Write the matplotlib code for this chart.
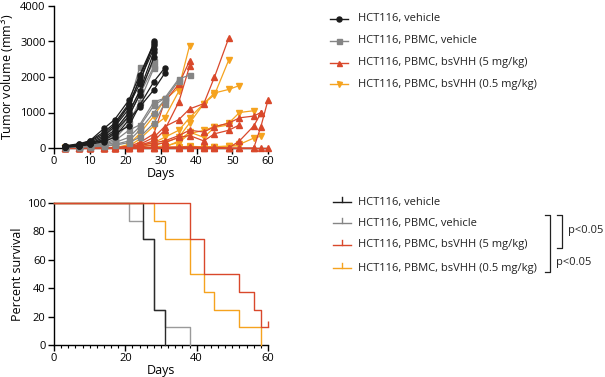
import matplotlib
matplotlib.use("Agg")
import matplotlib.pyplot as plt
from matplotlib.lines import Line2D
import numpy as np

plt.rcParams['font.family'] = ['Open Sans', 'DejaVu Sans']

# ---------------- data ----------------
days = [3, 7, 10, 14, 17, 21, 24, 28, 31, 35, 38, 42, 45, 49, 52, 56, 58, 60]

vehicle = [
    [50, 100, 180, 400, 650, 1200, 1800, 3000],
    [40, 90, 200, 550, 800, 1350, 2050, 2950],
    [30, 80, 150, 350, 600, 1100, 2000, 2900],
    [60, 120, 200, 450, 700, 1250, 1900, 2800],
    [40, 70, 120, 300, 500, 1000, 1600, 2700],
    [30, 60, 100, 250, 450, 900, 1500, 2550],
    [50, 80, 150, 200, 400, 620, 1200, 1870, 2250],
    [20, 50, 100, 180, 300, 800, 1150, 1640, 2100],
]
pbmc_vehicle = [
    [40, 60, 100, 300, 600, 1200, 2270],
    [30, 50, 90, 200, 450, 1000, 1600, 2450],
    [30, 50, 80, 150, 350, 900, 1500, 2300],
    [20, 40, 70, 120, 250, 700, 1300, 2250],
    [20, 40, 60, 100, 200, 500, 650, 1300, 1400],
    [20, 30, 50, 80, 150, 300, 600, 1200, 1400, 1950, 2050],
    [20, 30, 40, 60, 100, 200, 500, 1000, 1350, 1900],
    [10, 20, 30, 50, 80, 150, 300, 700, 1250],
]
bsvhh_5 = [
    [0, 0, 0, 0, 0, 50, 100, 300, 600, 800, 1100, 1250, 2000, 3100],
    [0, 0, 0, 0, 0, 50, 150, 400, 1300, 1800, 2450],
    [0, 0, 0, 0, 0, 30, 80, 200, 500, 1300, 2300],
    [0, 0, 0, 0, 0, 20, 60, 150, 200, 350, 500, 450, 600, 700, 850, 900, 1000],
    [0, 0, 0, 0, 0, 10, 30, 80, 150, 300, 350, 200, 400, 500, 650],
    [0, 0, 0, 0, 0, 0, 0, 10, 20, 30, 30, 20, 20, 0, 200, 620, 980],
    [0, 0, 0, 0, 0, 0, 0, 0, 0, 10, 20, 10, 0, 0, 0, 0, 600, 1350],
    [0, 0, 0, 0, 0, 0, 0, 0, 0, 0, 0, 0, 0, 0, 0, 0, 0, 0],
]
bsvhh_05 = [
    [0, 0, 0, 0, 0, 100, 400, 900, 1350, 1700, 2880],
    [0, 0, 0, 0, 0, 50, 250, 620, 850, 1600],
    [0, 0, 0, 0, 0, 20, 80, 150, 300, 500, 850, 1250, 1500, 2480],
    [0, 0, 0, 0, 0, 10, 40, 100, 150, 300, 700, 1250, 1550, 1650, 1760],
    [0, 0, 0, 0, 0, 0, 10, 30, 60, 150, 400, 500, 600, 700, 1000, 1050],
    [0, 0, 0, 0, 0, 0, 0, 10, 20, 30, 50, 30, 30, 50, 100, 280, 330],
    [0, 0, 0, 0, 0, 0, 0, 0, 10, 200, 450, 300, 580, 650],
    [0, 0, 0, 0, 0, 0, 0, 0, 0, 0, 20, 30, 40, 50, 60],
]

group_labels = ["HCT116, vehicle", "HCT116, PBMC, vehicle",
                "HCT116, PBMC, bsVHH (5 mg/kg)", "HCT116, PBMC, bsVHH (0.5 mg/kg)"]

# survival (Kaplan-Meier steps)
surv_vehicle_t = [0, 25, 28, 31]
surv_vehicle_p = [100, 75, 25, 0]
surv_pbmc_t = [0, 21, 25, 28, 31, 38]
surv_pbmc_p = [100, 87.5, 75, 25, 12.5, 0]
surv_5_t = [0, 38, 42, 52, 56, 58, 60]
surv_5_p = [100, 75, 50, 37.5, 25, 12.5, 12.5]
surv_05_t = [0, 28, 31, 38, 42, 45, 52, 58]
surv_05_p = [100, 87.5, 75, 50, 37.5, 25, 12.5, 0]

pvalue_text = "p<0.05"

# ---------------- style ----------------
c_black = "#1c1c1c"
c_grey = "#858585"
c_red = "#d9482b"
c_orange = "#f5a31f"
surv_black = "#2a2a2a"
surv_grey = "#9a9a9a"

W, H = 605, 377
fig = plt.figure(figsize=(W / 100, H / 100), dpi=100)

def fx(px):
    return px / W

def fy(py):
    return 1 - py / H

fs_tick = 8
fs_lab = 9
fs_leg = 8

# ---------------- top: tumor volume ----------------
ax1 = fig.add_axes([fx(54), fy(148), fx(268 - 54), (148 - 6) / H])
groups = [
    (bsvhh_05, c_orange, 'v', 3.8, 2),
    (bsvhh_5, c_red, '^', 3.8, 3),
    (pbmc_vehicle, c_grey, 's', 3.6, 4),
    (vehicle, c_black, 'o', 3.6, 5),
]
for data, col, mk, ms, z in groups:
    for vals in data:
        ax1.plot(days[:len(vals)], vals, color=col, marker=mk, markersize=ms,
                 linewidth=0.9, clip_on=False, zorder=z)
ax1.set_xlim(0, 60)
ax1.set_ylim(0, 4000)
ax1.set_xticks(range(0, 61, 10))
ax1.set_yticks(range(0, 4001, 1000))
for s in ['top', 'right']:
    ax1.spines[s].set_visible(False)
for s in ['left', 'bottom']:
    ax1.spines[s].set_linewidth(1.0)
ax1.tick_params(direction='out', length=4, width=1.0, labelsize=fs_tick, pad=2)
ax1.set_xlabel("Days", fontsize=fs_lab, labelpad=0)
ax1.set_ylabel("Tumor volume (mm$^3$)", fontsize=fs_lab, labelpad=2)

# ---------------- bottom: survival ----------------
ax2 = fig.add_axes([fx(54), fy(345), fx(268 - 54), (345 - 203) / H])
surv = [
    (surv_pbmc_t, surv_pbmc_p, surv_grey),
    (surv_vehicle_t, surv_vehicle_p, surv_black),
    (surv_05_t, surv_05_p, c_orange),
    (surv_5_t, surv_5_p, c_red),
]
for t, p, col in surv:
    ax2.step(t, p, where='post', color=col, linewidth=1.0, clip_on=False, zorder=3)
# censor mark at end of 5 mg/kg curve
ax2.plot([surv_5_t[-1]], [surv_5_p[-1]], marker=2, markersize=4, color=c_red,
         markeredgewidth=1.0, clip_on=False, zorder=3)
ax2.set_xlim(0, 60)
ax2.set_ylim(0, 100)
ax2.set_xticks(range(0, 61, 20))
ax2.set_xticks(range(0, 61, 2), minor=True)
ax2.set_yticks(range(0, 101, 20))
for s in ['top', 'right']:
    ax2.spines[s].set_visible(False)
for s in ['left', 'bottom']:
    ax2.spines[s].set_linewidth(1.0)
ax2.tick_params(direction='out', length=4, width=1.0, labelsize=fs_tick, pad=2)
ax2.tick_params(which='minor', direction='out', length=2.5, width=0.8)
ax2.set_xlabel("Days", fontsize=fs_lab, labelpad=0)
ax2.set_ylabel("Percent survival", fontsize=fs_lab, labelpad=2)

# ---------------- legends ----------------
top_rows = [19, 41, 63, 84]
top_styles = [(c_black, 'o'), (c_grey, 's'), (c_red, '^'), (c_orange, 'v')]
for (col, mk), y, lab in zip(top_styles, top_rows, group_labels):
    fig.add_artist(Line2D([fx(330), fx(348)], [fy(y), fy(y)], color=col, lw=1.0,
                          transform=fig.transFigure))
    fig.add_artist(Line2D([fx(339)], [fy(y)], color=col, marker=mk, markersize=3.6,
                          transform=fig.transFigure))
    fig.text(fx(358), fy(y), lab, fontsize=fs_leg, va='center', ha='left', color='#222222')

bot_rows = [202, 223, 245, 268]
bot_cols = [c_black, c_grey, c_red, c_orange]
for col, y, lab in zip(bot_cols, bot_rows, group_labels):
    fig.add_artist(Line2D([fx(333), fx(351)], [fy(y), fy(y)], color=col, lw=1.0,
                          transform=fig.transFigure))
    fig.add_artist(Line2D([fx(342), fx(342)], [fy(y), fy(y - 5)], color=col, lw=1.0,
                          transform=fig.transFigure))
    fig.text(fx(358), fy(y), lab, fontsize=fs_leg, va='center', ha='left', color='#222222')

# brackets
def bracket(x, y0, y1, w):
    fig.add_artist(Line2D([fx(x - w), fx(x), fx(x), fx(x - w)],
                          [fy(y0), fy(y0), fy(y1), fy(y1)], color='#222222', lw=0.9,
                          transform=fig.transFigure))

bracket(562, 215, 248, 5)
bracket(550, 215, 272, 5)
fig.text(fx(568), fy(230), pvalue_text, fontsize=fs_leg, va='center', ha='left', color='#222222')
fig.text(fx(556), fy(262), pvalue_text, fontsize=fs_leg, va='center', ha='left', color='#222222')

fig.savefig("out.png", dpi=100)
